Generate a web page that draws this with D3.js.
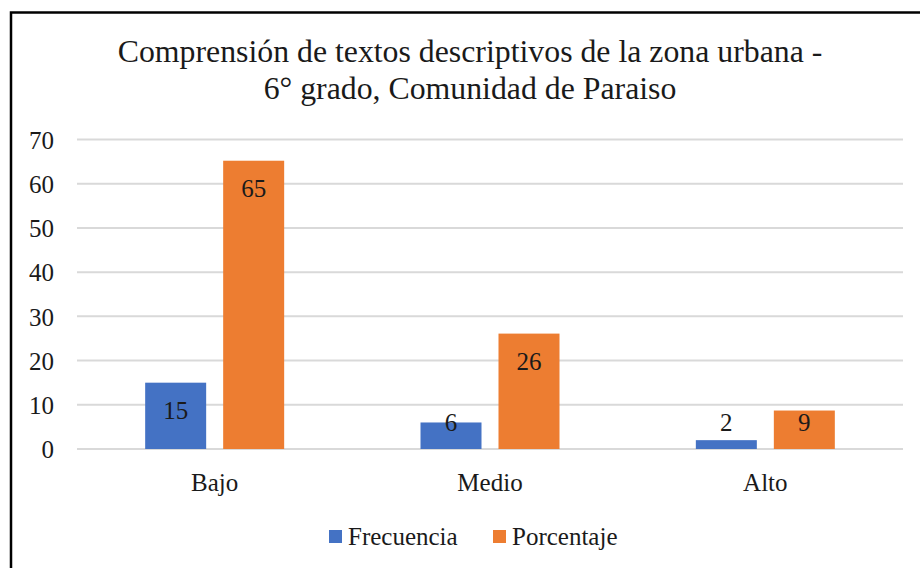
<!DOCTYPE html>
<html>
<head>
<meta charset="utf-8">
<script src="https://cdn.jsdelivr.net/npm/d3@7"></script>
<style>
  body { margin: 0; background: #fff; }
</style>
</head>
<body>
<script>
// ----- DATA -----
const categories = ["Bajo", "Medio", "Alto"];
const seriesNames = ["Frecuencia", "Porcentaje"];
const frecuencia = [15, 6, 2];
const porcentaje = [65.2, 26.1, 8.7];
const yTicks = [0, 10, 20, 30, 40, 50, 60, 70];
const titleLines = ["Comprensión de textos descriptivos de la zona urbana -", "6° grado, Comunidad de Paraiso"];
const colors = ["#4472C4", "#ED7D31"];

const w = 920, h = 568;
const plotLeft = 77, plotRight = 903, plotTop = 139.5, plotBottom = 449;
const serif = "Liberation Serif";
const ink = "#1a1a1a";

const svg = d3.select("body").append("svg")
  .attr("width", w)
  .attr("height", h)
  .attr("font-family", serif);

// outer frame (runs off the picture on the right and bottom)
svg.append("rect")
  .attr("x", 11).attr("y", 12.5)
  .attr("width", 1000).attr("height", 1000)
  .attr("fill", "none")
  .attr("stroke", "#000")
  .attr("stroke-width", 2.5);

// ----- TITLE -----
// drawn at 28px and scaled up so the first line spans ~705px like the original
const titleG = svg.append("g").selectAll("g")
  .data(titleLines)
  .join("g");
const titleText = titleG.append("text")
  .attr("text-anchor", "middle")
  .attr("font-family", serif)
  .attr("font-size", 28)
  .attr("fill", ink)
  .text(d => d);
const firstLen = titleText.node().getComputedTextLength() || 680;
const k = Math.min(1.2, Math.max(0.9, 705 / firstLen));
titleG.attr("transform", (d, i) => "translate(470," + (62 + i * 37) + ") scale(" + k + ")");

// ----- SCALES -----
const yScale = d3.scaleLinear().domain([0, 70]).range([plotBottom, plotTop]);
const x0 = d3.scaleBand().domain(categories).range([plotLeft, plotRight]).padding(0);
const x1 = d3.scaleBand().domain(seriesNames)
  .range([0, x0.bandwidth()])
  .paddingInner(0.218)
  .paddingOuter(0.874);

// gridlines
svg.append("g").selectAll("line")
  .data(yTicks)
  .join("line")
  .attr("x1", plotLeft).attr("x2", plotRight)
  .attr("y1", d => yScale(d)).attr("y2", d => yScale(d))
  .attr("stroke", "#d9d9d9")
  .attr("stroke-width", 2);

// y axis labels
const yAxis = d3.axisLeft(yScale).tickValues(yTicks).tickSize(0).tickPadding(0);
const gy = svg.append("g")
  .attr("transform", "translate(54,0)")
  .call(yAxis)
  .attr("font-family", serif)
  .attr("font-size", 25);
gy.select(".domain").remove();
gy.selectAll("text")
  .attr("fill", ink)
  .attr("dy", "0.35em");

// x axis labels
const xAxis = d3.axisBottom(x0).tickSize(0).tickPadding(0);
const gx = svg.append("g")
  .attr("transform", "translate(0,473)")
  .call(xAxis)
  .attr("font-family", serif)
  .attr("font-size", 25);
gx.select(".domain").remove();
gx.selectAll("text")
  .attr("fill", ink)
  .attr("dy", "0.71em");

// ----- BARS -----
const rows = categories.map((c, i) => ({
  cat: c,
  vals: [
    { s: seriesNames[0], v: frecuencia[i] },
    { s: seriesNames[1], v: porcentaje[i] }
  ]
}));

const groups = svg.append("g").selectAll("g")
  .data(rows)
  .join("g")
  .attr("transform", d => "translate(" + x0(d.cat) + ",0)");

groups.selectAll("rect")
  .data(d => d.vals)
  .join("rect")
  .attr("x", d => x1(d.s))
  .attr("y", d => yScale(d.v))
  .attr("width", x1.bandwidth())
  .attr("height", d => yScale(0) - yScale(d.v))
  .attr("fill", (d, i) => colors[i]);

// value labels: inside end, but never below the baseline area
groups.selectAll("text.lbl")
  .data(d => d.vals)
  .join("text")
  .attr("class", "lbl")
  .attr("x", d => x1(d.s) + x1.bandwidth() / 2)
  .attr("y", d => Math.min(yScale(d.v) + 28, yScale(0) - 27))
  .attr("dy", "0.35em")
  .attr("text-anchor", "middle")
  .attr("font-family", serif)
  .attr("font-size", 25)
  .attr("fill", ink)
  .text(d => d3.format(".0f")(d.v));

// ----- LEGEND -----
const legendX = [329, 493];
const legend = svg.append("g").selectAll("g")
  .data(seriesNames)
  .join("g")
  .attr("transform", (d, i) => "translate(" + legendX[i] + ",530)");

legend.append("rect")
  .attr("width", 13).attr("height", 13)
  .attr("fill", (d, i) => colors[i]);

legend.append("text")
  .attr("x", 19)
  .attr("y", 6.5)
  .attr("dy", "0.35em")
  .attr("font-family", serif)
  .attr("font-size", 25)
  .attr("fill", ink)
  .text(d => d);
</script>
</body>
</html>
